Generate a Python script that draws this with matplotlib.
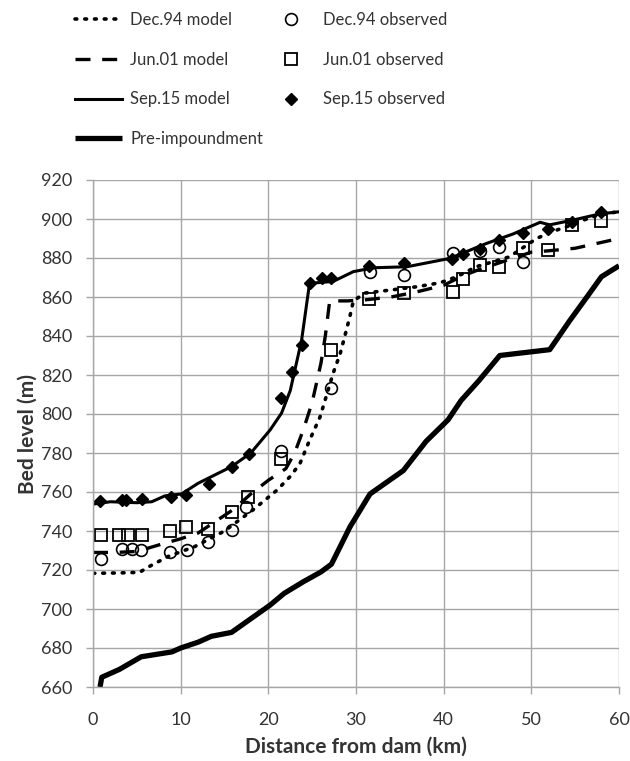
import matplotlib
matplotlib.use("Agg")
import matplotlib.pyplot as plt

plt.rcParams['font.family'] = ['Lato', 'DejaVu Sans']

# ---- data ----
dec94_model_x = [0, 3, 5.3, 6.5, 8.6, 11.6, 15, 18.3, 21, 22.5, 23.6, 24.7, 25.9, 26.6, 27.4, 28.2,
                 28.9, 29.3, 29.7, 31, 34, 37, 39.6, 41.5, 43.7, 47.5, 50.6, 52.3, 54, 56, 58, 60]
dec94_model_y = [718.3, 718.5, 718.8, 722, 727, 732, 740, 751, 761, 768, 774.5, 786.5, 798.5, 809, 821, 831,
                 843, 850, 858, 862, 863.6, 865.3, 867.3, 870.4, 875.5, 880.6, 890, 893.4, 896, 899.5, 902.6, 903.7]

jun01_model_x = [0, 2.5, 5, 6.5, 8, 10, 12, 14, 16, 18, 20, 22, 23, 24, 25, 26, 26.5, 27, 29, 31,
                 34, 37, 40, 42, 44, 46, 48, 50, 52, 55, 58, 60]
jun01_model_y = [729, 729, 729.5, 731.5, 733.5, 736, 739, 745, 751, 759, 766, 772, 780, 792, 806, 826, 840,
                 858, 858, 858.5, 860, 862.7, 866, 870.5, 874, 877, 880, 883, 883.7, 885, 888, 890]

sep15_model_x = [0, 2, 5, 6.7, 8.2, 10.1, 12, 15.8, 18, 20.2, 21.5, 22.5, 23.2, 23.8, 24.7, 27.4,
                 29.7, 32, 35.8, 40.7, 44.9, 47.9, 51, 52.1, 54.8, 57.8, 60]
sep15_model_y = [753.8, 755, 754.5, 755, 758, 759, 764.5, 773, 780, 791.8, 800.4, 812, 826, 838, 867, 868,
                 873, 875, 875.5, 879.8, 887.5, 892.3, 898.3, 897, 899.5, 902.6, 903.7]

pre_x = [0.8, 1, 3, 5.5, 9, 10, 12, 13.5, 15.8, 18, 20.2, 21.8, 24, 26, 27.2, 29.3, 31.6, 35.4,
         38, 40.5, 42, 44, 46.4, 52.1, 54.4, 56.5, 58, 60]
pre_y = [660, 665, 669, 675.5, 678, 680, 683, 686, 688, 695, 702, 708, 714, 719, 723, 742, 759, 771,
         786, 797, 807, 817, 830, 833, 848, 861, 870.4, 876]

dec94_obs_x = [0.9, 3.3, 4.4, 5.5, 8.8, 10.7, 13.1, 15.8, 17.5, 21.4, 27.2, 31.6, 35.5, 41.1, 44.1, 46.3, 49.0]
dec94_obs_y = [725.5, 731, 731, 730.5, 729, 730.5, 734.5, 740.5, 752.5, 781, 813.5, 873, 871.5, 882.5,
               883.5, 885.5, 878]

jun01_obs_x = [0.9, 3.0, 4.0, 5.6, 8.8, 10.6, 13.1, 15.8, 17.7, 21.5, 27.1, 31.5, 35.5, 41.1, 42.2,
               44.1, 46.3, 49.0, 51.9, 54.6, 57.9]
jun01_obs_y = [738, 738, 738, 738, 740, 742, 741, 750, 757.5, 777, 833, 858.8, 862, 862.7, 869,
               876.5, 875.5, 885, 884, 897, 899]

sep15_obs_x = [0.8, 3.3, 3.8, 5.6, 8.9, 10.6, 13.2, 15.8, 17.8, 21.4, 22.7, 23.8, 24.7, 26.1, 27.1,
               31.5, 35.5, 41.0, 42.2, 44.1, 46.3, 49.0, 51.9, 54.6, 57.9]
sep15_obs_y = [755.5, 756, 756, 756.5, 757.6, 758.5, 764, 773, 779.5, 808, 821.5, 835.4, 867.3, 869.5, 870,
               876, 877.6, 879.5, 882, 884.4, 889, 892.8, 895, 898.6, 903.7]

x_ticks = [0, 10, 20, 30, 40, 50, 60]
y_ticks = [660, 680, 700, 720, 740, 760, 780, 800, 820, 840, 860, 880, 900, 920]

# ---- figure ----
fig = plt.figure(figsize=(6.30, 7.61), dpi=100)
ax = fig.add_axes([93/630, 1-687/761, (619-93)/630, (687-180)/761])

grid_c = '#a6a6a6'
txt_c = '#333333'
ax.set_xlim(0, 60)
ax.set_ylim(660, 920)
ax.set_xticks(x_ticks)
ax.set_yticks(y_ticks)
ax.grid(True, color=grid_c, linewidth=1.0)
ax.set_axisbelow(True)
for s in ['top', 'right']:
    ax.spines[s].set_visible(False)
for s in ['left', 'bottom']:
    ax.spines[s].set_color(grid_c)
    ax.spines[s].set_linewidth(1.0)
ax.tick_params(axis='both', direction='out', length=5, color=grid_c, width=1.0,
               labelsize=13, labelcolor=txt_c)
ax.tick_params(axis='x', pad=13)
ax.tick_params(axis='y', pad=10)

l1, = ax.plot(dec94_model_x, dec94_model_y, color='black', linewidth=2.6,
              linestyle=(0, (0.5, 2.2)), dash_capstyle='round', label='Dec.94 model')
l2, = ax.plot(jun01_model_x, jun01_model_y, color='black', linewidth=2.4,
              linestyle=(0, (4.5, 3.5)), label='Jun.01 model')
l3, = ax.plot(sep15_model_x, sep15_model_y, color='black', linewidth=2.2, label='Sep.15 model')
l4, = ax.plot(pre_x, pre_y, color='black', linewidth=3.8, solid_capstyle='butt', label='Pre-impoundment')

m1, = ax.plot(dec94_obs_x, dec94_obs_y, linestyle='none', marker='o', markersize=8.5,
              markerfacecolor='none', markeredgecolor='black', markeredgewidth=1.2, label='Dec.94 observed')
m2, = ax.plot(jun01_obs_x, jun01_obs_y, linestyle='none', marker='s', markersize=8,
              markerfacecolor='none', markeredgecolor='black', markeredgewidth=1.3, label='Jun.01 observed')
m3, = ax.plot(sep15_obs_x, sep15_obs_y, linestyle='none', marker='D', markersize=6.5,
              markerfacecolor='black', markeredgecolor='black', label='Sep.15 observed')

ax.set_xlabel('Distance from dam (km)', fontsize=15, fontweight='bold', color=txt_c, labelpad=6)
ax.set_ylabel('Bed level (m)', fontsize=15, fontweight='bold', color=txt_c, labelpad=2)

leg = fig.legend(handles=[l1, l2, l3, l4, m1, m2, m3], loc='upper left',
                 bbox_to_anchor=(75/630, 1-12/761), ncol=2, frameon=False,
                 fontsize=12, handlelength=2.8, handletextpad=0.5,
                 labelspacing=1.42, columnspacing=0.3, borderpad=0, borderaxespad=0)
for t in leg.get_texts():
    t.set_color(txt_c)

fig.savefig('out.png', dpi=100)
